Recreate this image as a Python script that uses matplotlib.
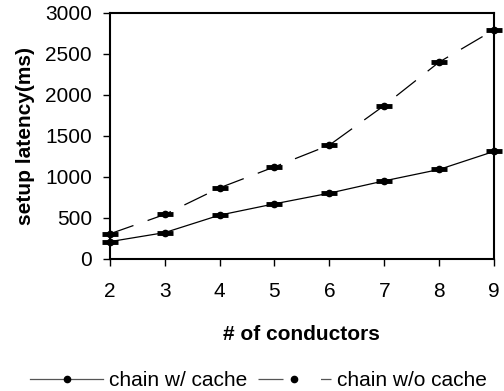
import matplotlib
matplotlib.use("Agg")
import matplotlib.pyplot as plt

plt.rcParams['font.family'] = ['Liberation Sans', 'DejaVu Sans']

conductors = [2, 3, 4, 5, 6, 7, 8, 9]
with_cache = [210, 320, 533, 671, 801, 951, 1090, 1310]
without_cache = [305, 541, 866, 1122, 1387, 1870, 2399, 2793]

fig = plt.figure(figsize=(5.04, 3.91), dpi=100)
ax = fig.add_axes([0.218, 0.338, 0.762, 0.629])

# the caps on each point
for ys in (with_cache, without_cache):
    ax.plot(conductors, ys, linestyle='none', marker='_', markersize=11,
            markeredgewidth=3.5, color='black', clip_on=False, zorder=3)

ax.plot(conductors, with_cache, color='black', linewidth=0.9, marker='o',
        markersize=4.5, clip_on=False, zorder=4, label='chain w/ cache')
ax.plot(conductors, without_cache, color='black', linewidth=0.9, marker='o',
        markersize=4.5, dashes=(20, 12), clip_on=False, zorder=4,
        label='chain w/o cache')

ax.set_xlim(2, 9)
ax.set_ylim(0, 3000)
ax.set_xticks(conductors)
ax.set_yticks(range(0, 3001, 500))
ax.tick_params(labelsize=15, length=5, width=1)
ax.tick_params(axis='x', pad=12)
ax.tick_params(axis='y', pad=8)
for s in ax.spines.values():
    s.set_linewidth(1.5)

ax.set_xlabel('# of conductors', fontsize=15, fontweight='bold', labelpad=17)
ax.set_ylabel('setup latency(ms)', fontsize=15, fontweight='bold', labelpad=7)

leg = fig.legend(loc='lower center', bbox_to_anchor=(0.513, -0.045), ncol=2,
                 frameon=False, fontsize=15, handlelength=3.5,
                 columnspacing=0.5, handletextpad=0.3)
for line in leg.get_lines():
    line.set_color('#555555')
    line.set_markerfacecolor('black')
    line.set_markeredgecolor('black')
leg.get_lines()[1].set_dashes((20, 30))

fig.savefig('out.png', dpi=100)
